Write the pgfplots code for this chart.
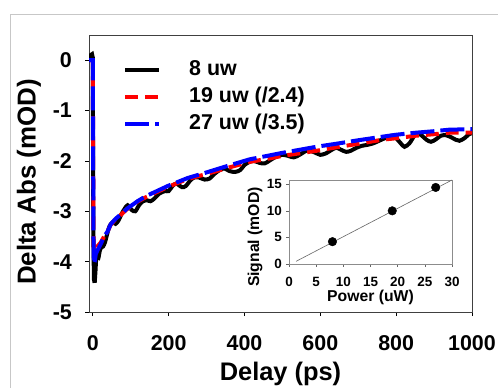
\documentclass[border=0pt]{standalone}
\usepackage{pgfplots}
\pgfplotsset{compat=1.18}
\usepackage{fontspec}
\setmainfont{Liberation Sans}
\begin{document}
\begin{tikzpicture}
\useasboundingbox (0,0) rectangle (498bp,388bp);
\draw[black!22, line width=1bp] (10bp,0) -- (10bp,373bp) -- (498bp,373bp);
\begin{axis}[
 at={(89bp,76bp)}, anchor=south west, scale only axis, width=383bp, height=277bp,
 xmin=-10, xmax=1000, ymin=-5, ymax=0.5,
 axis line style={black!75, line width=0.8bp},
 xtick={0,200,400,600,800,1000}, xticklabels={0,200,400,600,800,1000},
 ytick={-5,-4,-3,-2,-1,0}, yticklabels={-5,-4,-3,-2,-1,0},
 tick align=outside, xtick pos=bottom, ytick pos=left,
 major tick length=4bp, tick style={black, line width=0.8bp},
 ticklabel style={font=\bfseries\fontsize{21.5}{22}\selectfont},
 xticklabel style={inner sep=0pt, anchor=north, yshift=-19bp},
 yticklabel style={inner sep=0pt, anchor=east, xshift=-13bp},
 xlabel={Delay (ps)},
 xlabel style={at={(axis description cs:0.5,0)}, anchor=base, yshift=-68bp, inner sep=0pt, font=\bfseries\fontsize{25.5}{26}\selectfont},
 ylabel={Delta Abs (mOD)},
 ylabel style={at={(axis description cs:-0.1567,0.469)}, anchor=center, inner sep=0pt, font=\bfseries\fontsize{26}{27}\selectfont},
 legend style={at={(rel axis cs:0.0888,0.910)}, anchor=north west, draw=none, fill=none, inner sep=0pt, column sep=28bp, row sep=7bp, font=\bfseries\fontsize{21.5}{22}\selectfont, nodes={inner sep=0pt, text height=15bp, text depth=5bp}},
 legend cell align=left,
 legend image code/.code={\draw[#1] (0bp,0bp) -- (34bp,0bp);},
]
\addplot[black, line width=4bp, forget plot] coordinates {
(-10,0.05) (-6,0.1) (-2,0.12) (0,0.05) (0.5,-1.5) (1.5,-3.5) (3,-4.35) (5,-4.42)
};
\addplot[black, line width=4bp, smooth, tension=0.5] coordinates {
(5,-4.42) (7,-4.2) (9,-3.95) (12,-3.9) (15,-3.92) (18,-3.8) (22,-3.72) (27,-3.7) (32,-3.62) (38,-3.45) (44,-3.3) (52,-3.22) (60,-3.25) (68,-3.18) (76,-3.05) (84,-2.95) (92,-2.88) (102,-2.97) (112,-3.0) (122,-2.88) (132,-2.8) (142,-2.78) (152,-2.8) (162,-2.75) (175,-2.65) (190,-2.6) (200,-2.6) (210,-2.5) (220,-2.45) (235,-2.52) (245,-2.5) (258,-2.38) (268,-2.33) (280,-2.33) (295,-2.37) (308,-2.35) (322,-2.25) (335,-2.18) (347,-2.15) (360,-2.2) (375,-2.22) (389,-2.18) (400,-2.08) (413,-2.02) (425,-2.0) (440,-2.04) (453,-2.05) (465,-2.0) (480,-1.93) (500,-1.88) (515,-1.9) (530,-1.93) (545,-1.88) (563,-1.8) (575,-1.8) (590,-1.85) (600,-1.88) (615,-1.85) (630,-1.78) (642,-1.74) (655,-1.78) (668,-1.82) (680,-1.8) (695,-1.74) (710,-1.7) (725,-1.68) (740,-1.65) (755,-1.6) (770,-1.55) (787,-1.5) (800,-1.55) (812,-1.65) (822,-1.72) (835,-1.65) (848,-1.5) (857,-1.45) (868,-1.5) (880,-1.58) (892,-1.62) (905,-1.57) (918,-1.5) (931,-1.49) (945,-1.53) (957,-1.58) (967,-1.6) (980,-1.55) (992,-1.47) (1000,-1.45)
};
\addlegendentry{8 uw}
\addplot[red, line width=4bp, dash pattern=on 13bp off 7bp] coordinates {
(-10,0) (-2,0) (0,0) (1,-2) (2,-3.7) (4,-3.8) (8,-3.74) (12,-3.7) (21,-3.62) (30,-3.5) (39,-3.4) (47,-3.27) (60,-3.16) (74,-3.07) (90,-2.96) (118,-2.81) (140,-2.72) (163,-2.64) (197,-2.52) (250,-2.36) (295,-2.27) (355,-2.14) (413,-2.02) (460,-1.96) (500,-1.9) (545,-1.85) (589,-1.8) (650,-1.72) (700,-1.66) (763,-1.58) (800,-1.55) (852,-1.5) (900,-1.47) (940,-1.44) (1000,-1.44)
};
\addlegendentry{19 uw (/2.4)}
\addplot[blue, line width=4bp, dash pattern=on 24bp off 6bp] coordinates {
(-10,0) (-2,0) (0,0) (1,-2) (2,-3.8) (3,-4.05) (5,-4.0) (8,-3.85) (12,-3.78) (21,-3.65) (30,-3.5) (39,-3.4) (47,-3.26) (60,-3.15) (74,-3.06) (90,-2.95) (118,-2.8) (140,-2.7) (163,-2.62) (197,-2.5) (250,-2.34) (295,-2.24) (355,-2.1) (413,-1.97) (460,-1.9) (500,-1.84) (545,-1.78) (589,-1.72) (650,-1.65) (700,-1.59) (763,-1.52) (800,-1.48) (852,-1.44) (900,-1.41) (940,-1.38) (1000,-1.37)
};
\addlegendentry{27 uw (/3.5)}
\end{axis}
\begin{axis}[
 at={(289bp,124bp)}, anchor=south west, scale only axis, width=163bp, height=84bp,
 xmin=0, xmax=30, ymin=0, ymax=15.8,
 xtick={0,5,10,15,20,25,30}, xticklabels={0,5,10,15,20,25,30},
 ytick={0,5,10,15}, yticklabels={0,5,10,15},
 tick align=outside, xtick pos=bottom, ytick pos=left,
 major tick length=3bp, tick style={black!60, line width=0.6bp},
 axis line style={black!45, line width=0.6bp},
 axis background/.style={fill=white},
 ticklabel style={font=\bfseries\fontsize{13.5}{14}\selectfont},
 xticklabel style={inner sep=0pt, anchor=north, yshift=-10bp},
 yticklabel style={inner sep=0pt, anchor=east, xshift=-4bp},
 xlabel={Power (uW)},
 xlabel style={at={(axis description cs:0.5,0)}, anchor=base, yshift=-38bp, inner sep=0pt, font=\bfseries\fontsize{15.8}{16}\selectfont},
 ylabel={Signal (mOD)},
 ylabel style={at={(axis description cs:-0.2086,0.32)}, anchor=center, inner sep=0pt, font=\bfseries\fontsize{15.8}{16}\selectfont},
]
\addplot[black!60, line width=0.6bp] coordinates {(1.3,0.5) (30,15.8)};
\addplot[only marks, mark=*, mark size=4.3bp, black] coordinates {(8,4.2) (19,10.0) (27,14.4)};
\end{axis}
\end{tikzpicture}
\end{document}
